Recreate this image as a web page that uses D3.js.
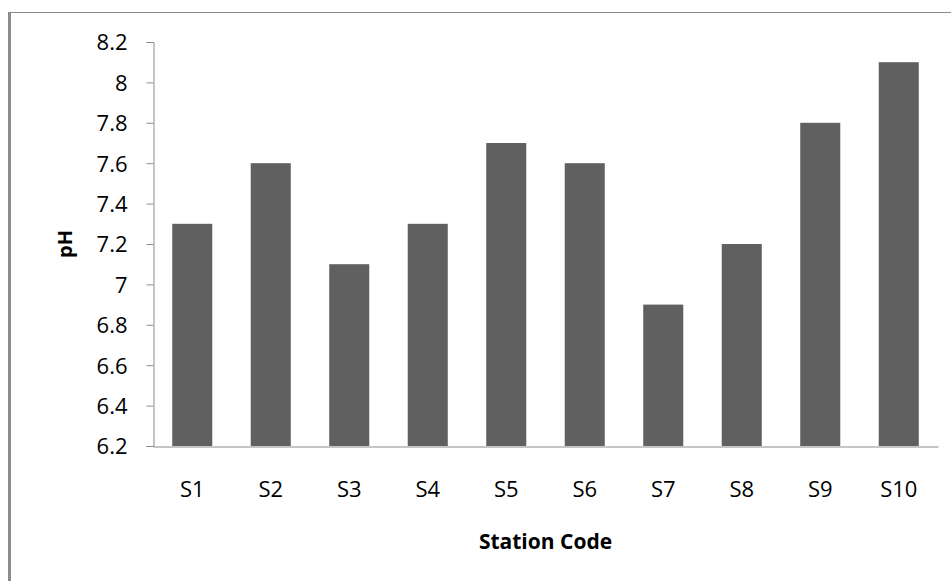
<!DOCTYPE html>
<html>
<head>
<meta charset="utf-8">
<script src="https://cdn.jsdelivr.net/npm/d3@7"></script>
<style>
  html, body { margin: 0; padding: 0; background: #fff; }
  svg { display: block; }
  text { font-family: "Open Sans", "DejaVu Sans", sans-serif; fill: #000; }
</style>
</head>
<body>
<svg id="chart" width="951" height="581"></svg>
<script>
// pH measured at each sampling station
const stations = ["S1", "S2", "S3", "S4", "S5", "S6", "S7", "S8", "S9", "S10"];
const phValues = [7.3, 7.6, 7.1, 7.3, 7.7, 7.6, 6.9, 7.2, 7.8, 8.1];
const yTicks = [6.2, 6.4, 6.6, 6.8, 7, 7.2, 7.4, 7.6, 7.8, 8, 8.2];

const svg = d3.select("#chart");
const margin = { left: 153, right: 13, top: 42, bottom: 135 };
const W = 951, H = 581;

// chart frame (continues past the right and bottom edges)
svg.append("rect")
  .attr("x", 9.5).attr("y", 12.5)
  .attr("width", 960).attr("height", 600)
  .attr("fill", "none").attr("stroke", "#8c8c8c").attr("stroke-width", 1);
svg.append("line")
  .attr("x1", 9.5).attr("x2", 9.5).attr("y1", 12).attr("y2", H)
  .attr("stroke", "#8c8c8c").attr("stroke-width", 3);

const x = d3.scaleBand()
  .domain(stations)
  .range([margin.left, W - margin.right])
  .paddingInner(0.49).paddingOuter(0.245);

const y = d3.scaleLinear()
  .domain([6.2, 8.2])
  .range([H - margin.bottom, margin.top]);

// bars
svg.append("g").selectAll("rect")
  .data(stations)
  .join("rect")
  .attr("x", (d) => x(d))
  .attr("width", x.bandwidth())
  .attr("y", (d, i) => y(phValues[i]))
  .attr("height", (d, i) => y(6.2) - y(phValues[i]))
  .attr("fill", "#606060");

// y axis
const yAxis = svg.append("g")
  .attr("transform", `translate(${margin.left + 0.5},0)`)
  .call(d3.axisLeft(y).tickValues(yTicks).tickFormat(d3.format("")).tickSize(7).tickPadding(19));
yAxis.select(".domain").attr("stroke", "#8c8c8c");
yAxis.selectAll(".tick line").attr("stroke", "#8c8c8c");
yAxis.selectAll(".tick text")
  .style("font-size", "22px")
  .attr("dy", "0.36em");

// x axis
const xAxis = svg.append("g")
  .attr("transform", `translate(0,${y(6.2) + 0.5})`)
  .call(d3.axisBottom(x).tickSize(0).tickPadding(35));
xAxis.select(".domain").attr("stroke", "#8c8c8c");
xAxis.selectAll(".tick text")
  .style("font-size", "22px");

// axis titles
svg.append("text")
  .attr("x", (margin.left + W - margin.right) / 2)
  .attr("y", 549)
  .attr("text-anchor", "middle")
  .style("font-size", "21px")
  .style("font-weight", "bold")
  .text("Station Code");

svg.append("text")
  .attr("transform", "translate(72,244) rotate(-90)")
  .attr("text-anchor", "middle")
  .style("font-size", "20px")
  .style("font-weight", "bold")
  .text("pH");
</script>
</body>
</html>
